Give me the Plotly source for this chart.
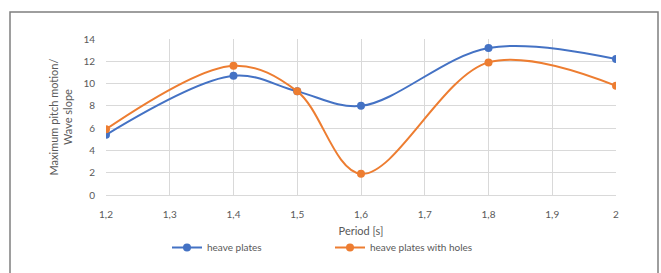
import plotly.graph_objects as go

period = [1.2, 1.4, 1.5, 1.6, 1.8, 2.0]
heave_plates = [5.4, 10.7, 9.3, 8.0, 13.2, 12.2]
heave_plates_holes = [5.9, 11.6, 9.3, 1.9, 11.9, 9.8]
x_ticks = [1.2, 1.3, 1.4, 1.5, 1.6, 1.7, 1.8, 1.9, 2.0]
x_tick_labels = ["1,2", "1,3", "1,4", "1,5", "1,6", "1,7", "1,8", "1,9", "2"]
y_ticks = [0, 2, 4, 6, 8, 10, 12, 14]

FONT = "Lato, Carlito, Calibri, sans-serif"
GRAY = "#595959"

fig = go.Figure()
fig.add_trace(go.Scatter(
    x=period, y=heave_plates, name="heave plates",
    mode="lines+markers", line=dict(color="#4472C4", width=2, shape="spline", smoothing=1.0),
    marker=dict(size=8, color="#4472C4")))
fig.add_trace(go.Scatter(
    x=period, y=heave_plates_holes, name="heave plates with holes",
    mode="lines+markers", line=dict(color="#ED7D31", width=2, shape="spline", smoothing=1.0),
    marker=dict(size=8, color="#ED7D31")))

L, R, T, B = 106, 616, 39, 195
W, H = 661, 273
pw, ph = R - L, B - T

def px(x):
    return (x - L) / pw

def py(y):
    return (B - y) / ph

fig.update_layout(
    template="none",
    width=W, height=H,
    margin=dict(l=L, r=W - R, t=T, b=H - B, autoexpand=False),
    paper_bgcolor="white", plot_bgcolor="white",
    font=dict(family=FONT, size=10, color=GRAY),
    showlegend=True,
    legend=dict(orientation="h", x=px(167), xanchor="left", y=py(233), yanchor="top",
                entrywidth=118, entrywidthmode="pixels",
                font=dict(size=10, color=GRAY), bgcolor="rgba(0,0,0,0)",
                itemwidth=30),
    xaxis=dict(range=[1.2, 2.0], tickvals=x_ticks, ticktext=x_tick_labels,
               showgrid=True, gridcolor="#D9D9D9", gridwidth=1, automargin=False,
               zeroline=False, showline=True, linecolor="#D9D9D9", ticks="",
               tickfont=dict(size=10, color=GRAY), ticklabelstandoff=10,
               title=dict(text="Period [s]", font=dict(size=11, color=GRAY), standoff=8)),
    yaxis=dict(range=[0, 14], tickvals=y_ticks, automargin=False,
               showgrid=True, gridcolor="#D9D9D9", gridwidth=1,
               zeroline=False, showline=False, ticks="",
               tickfont=dict(size=10, color=GRAY), ticklabelstandoff=10,
               title=dict(text="Maximum pitch motion/<br>Wave slope",
                          font=dict(size=11, color=GRAY), standoff=8)),
    shapes=[dict(type="rect", xref="paper", yref="paper",
                 x0=px(10), x1=px(658), y0=py(300), y1=py(12),
                 line=dict(color="#7F7F7F", width=1.5), fillcolor="rgba(0,0,0,0)",
                 layer="below")],
)

fig.write_html("out.html", config={"displayModeBar": False},
               post_script="document.body.style.margin='0';document.body.style.overflow='hidden';")
